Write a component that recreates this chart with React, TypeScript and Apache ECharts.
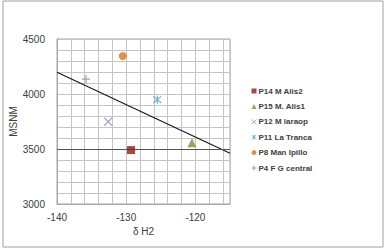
import React, { useEffect, useRef } from "react";
import * as echarts from "echarts";

const seriesNames = ["P14 M Alis2", "P15 M. Alis1", "P12 M laraop", "P11 La Tranca", "P8 Man Ipillo", "P4 F G central"];
const xValues = [-129.3, -120.5, -132.6, -125.5, -130.5, -135.8];
const yValues = [3490, 3557, 3748, 3948, 4345, 4136];
const trendX = [-140, -115];
const trendY = [4197, 3461];
const xTickLabels = [-140, -130, -120];
const yTickLabels = [3000, 3500, 4000, 4500];

const XPATH = "path://M0,0L10,10M10,0L0,10";
const STAR = "path://M0,0L10,10M10,0L0,10M5,-1L5,11";
const PLUS = "path://M5,0L5,10M0,5L10,5";

const styles = [
  { symbol: "rect", size: 8, color: "#8f1a1a", stroke: false },
  { symbol: "triangle", size: 9, color: "#76923c", stroke: false },
  { symbol: XPATH, size: 8, color: "#9c88c0", stroke: true },
  { symbol: STAR, size: 8, color: "#4aa3c4", stroke: true },
  { symbol: "circle", size: 8, color: "#e0701e", stroke: false },
  { symbol: PLUS, size: 8, color: "#7d8db0", stroke: true },
];

export default function App() {
  const ref = useRef<HTMLDivElement>(null);
  useEffect(() => {
    const chart = echarts.init(ref.current!, null, { renderer: "svg" });
    const font = "'Liberation Sans', Arial, sans-serif";
    const scatter = seriesNames.map((name, i) => {
      const s = styles[i];
      return {
        name,
        type: "scatter",
        symbol: s.symbol,
        symbolSize: s.size,
        data: [[xValues[i], yValues[i]]],
        itemStyle: s.stroke
          ? { color: "rgba(0,0,0,0)", borderColor: s.color, borderWidth: 1.2 }
          : { color: s.color },
        z: 5,
      };
    });
    chart.setOption({
      animation: false,
      backgroundColor: "#ffffff",
      textStyle: { fontFamily: font },
      graphic: [
        {
          type: "rect",
          shape: { x: 3, y: 1, width: 380, height: 246 },
          style: { fill: "none", stroke: "#a0a0a0", lineWidth: 1 },
          silent: true,
        },
      ],
      grid: { left: 57, right: 157, top: 39, bottom: 47, show: true, borderColor: "#a6a6a6", borderWidth: 1 },
      legend: {
        data: seriesNames.map((n, i) => ({
          name: n,
          icon: styles[i].symbol,
          itemStyle: styles[i].stroke ? { borderWidth: 1 } : undefined,
        })),
        orient: "vertical",
        left: 246,
        top: 81,
        itemWidth: 5,
        itemHeight: 5,
        itemGap: 5.4,
        textStyle: { fontSize: 8, fontWeight: "bold", color: "#404040", fontFamily: font, lineHeight: 10, padding: [0, 0, 0, -3] },
      },
      xAxis: {
        type: "value",
        min: -140,
        max: -115,
        interval: 2,
        name: "δ H2",
        nameLocation: "middle",
        nameGap: 20,
        nameTextStyle: { fontSize: 10, color: "#404040" },
        axisLine: { show: true, lineStyle: { color: "#a6a6a6" } },
        axisTick: { show: false },
        axisLabel: {
          margin: 8,
          fontSize: 10,
          color: "#404040",
          showMaxLabel: false,
          formatter: (v: number) => (xTickLabels.includes(v) ? String(v) : ""),
        },
        splitLine: { show: true, lineStyle: { color: "#c4c4c4", width: 1 } },
      },
      yAxis: {
        type: "value",
        min: 3000,
        max: 4500,
        interval: 100,
        name: "MSNM",
        nameLocation: "middle",
        nameRotate: 90,
        nameGap: 37,
        nameTextStyle: { fontSize: 10, color: "#404040" },
        axisLine: { show: true, lineStyle: { color: "#a6a6a6" } },
        axisTick: { show: false },
        axisLabel: {
          margin: 12,
          fontSize: 10,
          color: "#404040",
          formatter: (v: number) => (yTickLabels.includes(v) ? String(v) : ""),
        },
        splitLine: { show: true, lineStyle: { color: "#c4c4c4", width: 1 } },
      },
      series: [
        {
          name: "trend",
          type: "line",
          data: trendX.map((x, i) => [x, trendY[i]]),
          symbol: "none",
          lineStyle: { color: "#1a1a1a", width: 1.2 },
          z: 4,
          markLine: {
            silent: true,
            symbol: "none",
            label: { show: false },
            lineStyle: { color: "#555555", width: 1, type: "solid" },
            data: [{ yAxis: 3500 }],
          },
        },
        ...scatter,
      ],
    });
    return () => chart.dispose();
  }, []);
  return <div ref={ref} style={{ position: "fixed", left: 0, top: 0, width: 387, height: 251 }} />;
}
